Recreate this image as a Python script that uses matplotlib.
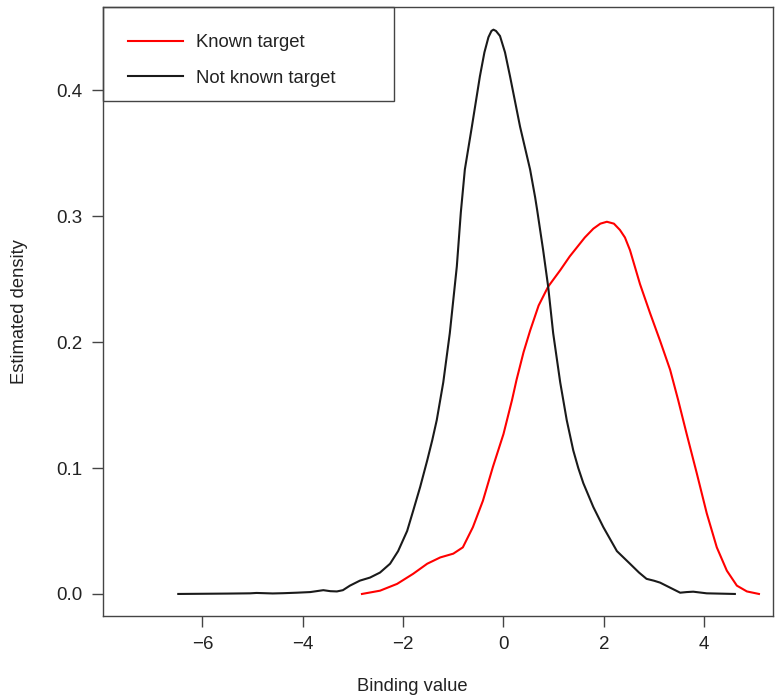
import matplotlib
matplotlib.use("Agg")
import matplotlib.pyplot as plt
from matplotlib.patches import Rectangle

plt.rcParams["font.family"] = ["Liberation Sans", "DejaVu Sans"]

# density estimate, "Not known target"
not_known_x = [-6.48, -5.5, -5.05, -4.92, -4.6, -4.39, -4.12, -3.85, -3.59, -3.45,
               -3.32, -3.2, -3.06, -2.86, -2.66, -2.46, -2.26, -2.1, -1.92, -1.8,
               -1.66, -1.52, -1.42, -1.33, -1.2, -1.07, -0.93, -0.85, -0.77, -0.63,
               -0.47, -0.38, -0.3, -0.24, -0.2, -0.15, -0.07, 0.03, 0.13, 0.33,
               0.53, 0.63, 0.67, 0.79, 0.89, 0.99, 1.13, 1.26, 1.39, 1.49,
               1.59, 1.79, 1.99, 2.26, 2.52, 2.7, 2.85, 3.0, 3.12, 3.32,
               3.52, 3.65, 3.78, 4.05, 4.61]
not_known_y = [0.0, 0.0003, 0.0005, 0.0008, 0.0004, 0.0006, 0.001, 0.0015, 0.003, 0.0022,
               0.002, 0.003, 0.0066, 0.0106, 0.013, 0.017, 0.024, 0.034, 0.050, 0.066,
               0.085, 0.106, 0.122, 0.138, 0.168, 0.207, 0.26, 0.303, 0.337, 0.371,
               0.411, 0.430, 0.442, 0.447, 0.448, 0.447, 0.443, 0.430, 0.411, 0.371,
               0.337, 0.315, 0.305, 0.273, 0.244, 0.207, 0.168, 0.138, 0.114, 0.100,
               0.088, 0.069, 0.053, 0.034, 0.024, 0.017, 0.012, 0.0105, 0.009, 0.005,
               0.001, 0.0015, 0.0018, 0.0005, 0.0]

# "Known target"
known_x = [-2.82, -2.46, -2.12, -1.8, -1.52, -1.26, -1.0, -0.81, -0.61, -0.41,
           -0.21, 0.0, 0.17, 0.26, 0.4, 0.53, 0.7, 0.89, 1.13, 1.32,
           1.46, 1.62, 1.79, 1.93, 2.06, 2.2, 2.32, 2.42, 2.52, 2.72,
           2.92, 3.12, 3.32, 3.48, 3.65, 3.85, 4.05, 4.25, 4.45, 4.65,
           4.85, 5.09]
known_y = [0.0, 0.0026, 0.008, 0.016, 0.024, 0.029, 0.032, 0.037, 0.053, 0.074,
           0.101, 0.127, 0.154, 0.170, 0.192, 0.209, 0.229, 0.244, 0.257, 0.268,
           0.275, 0.283, 0.290, 0.294, 0.2955, 0.294, 0.289, 0.283, 0.273, 0.246,
           0.223, 0.201, 0.178, 0.154, 0.127, 0.096, 0.064, 0.037, 0.0185, 0.0066,
           0.002, 0.0]

x_ticks = [-6, -4, -2, 0, 2, 4]
y_ticks = [0.0, 0.1, 0.2, 0.3, 0.4]

fig = plt.figure(figsize=(7.76, 7.0), dpi=100)
ax = fig.add_axes([103 / 776, 84 / 700, 670 / 776, 609 / 700])

ax.plot(known_x, known_y, color="#ff0000", lw=1.5, label="Known target")
ax.plot(not_known_x, not_known_y, color="#1a1a1a", lw=1.5, label="Not known target")

ax.set_xlim(-7.98, 5.37)
ax.set_ylim(-0.0175, 0.466)
ax.set_xticks(x_ticks)
ax.set_xticklabels([f"{t:d}".replace("-", "\u2212") for t in x_ticks])
ax.set_yticks(y_ticks)
ax.set_yticklabels([f"{t:.1f}" for t in y_ticks])
ax.tick_params(direction="out", length=8, width=1.0, color="#444444",
               labelsize=13.5, pad=6.5, labelcolor="#222222")
for s in ax.spines.values():
    s.set_color("#444444")
    s.set_linewidth(1.0)

ax.set_xlabel("Binding value", fontsize=13.2, color="#222222")
ax.set_ylabel("Estimated density", fontsize=13.2, color="#222222")
ax.xaxis.set_label_coords(0.461, -0.101)
ax.yaxis.set_label_coords(-0.112, 0.5)

# R-style legend box flush with the top-left corner
ax.add_patch(Rectangle((0, 0.846), 0.434, 0.154, transform=ax.transAxes,
                       fill=False, edgecolor="#444444", lw=1.0, clip_on=False))
ax.legend(loc="upper left", bbox_to_anchor=(0.0373, 0.9557), frameon=False,
          borderpad=0, borderaxespad=0, handlelength=2.97, handletextpad=0.70,
          labelspacing=1.02, fontsize=13.3, labelcolor="#222222")

fig.savefig("out.png", dpi=100)
